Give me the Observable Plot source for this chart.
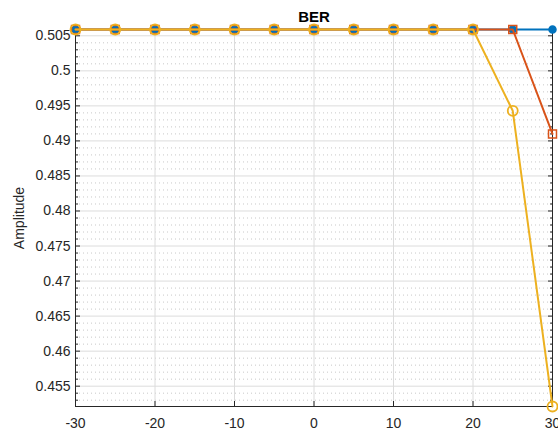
<!DOCTYPE html>
<html>
<head>
<meta charset="utf-8">
<script src="https://cdn.jsdelivr.net/npm/d3@7"></script>
<script src="https://cdn.jsdelivr.net/npm/@observablehq/plot@0.6"></script>
<style>
  html, body { margin: 0; padding: 0; background: #fff; }
</style>
</head>
<body>
<div id="chart"></div>
<script>
const snr = [-30, -25, -20, -15, -10, -5, 0, 5, 10, 15, 20, 25, 30];
const berA = [0.5059, 0.5059, 0.5059, 0.5059, 0.5059, 0.5059, 0.5059, 0.5059, 0.5059, 0.5059, 0.5059, 0.5059, 0.5059];
const berB = [0.5059, 0.5059, 0.5059, 0.5059, 0.5059, 0.5059, 0.5059, 0.5059, 0.5059, 0.5059, 0.5059, 0.5059, 0.4910];
const berC = [0.5059, 0.5059, 0.5059, 0.5059, 0.5059, 0.5059, 0.5059, 0.5059, 0.5059, 0.5059, 0.5059, 0.4943, 0.4521];
const xTicks = [-30, -20, -10, 0, 10, 20, 30];
const yTicks = [0.455, 0.46, 0.465, 0.47, 0.475, 0.48, 0.485, 0.49, 0.495, 0.5, 0.505];
const yMinor = d3.range(453, 506).filter(v => v % 5 !== 0).map(v => v / 1000);
const title = "BER";
const yLabel = "Amplitude";

const mk = (vals) => snr.map((x, i) => ({x, y: vals[i]}));
const A = mk(berA), B = mk(berB), C = mk(berC);
const blue = "#0072BD", red = "#D95319", yellow = "#EDB120";

const chart = Plot.plot({
  width: 558,
  height: 432,
  marginLeft: 75,
  marginRight: 6,
  marginTop: 29,
  marginBottom: 26,
  style: {fontFamily: "'Liberation Sans', Arial, Helvetica, sans-serif", fontSize: "14px", color: "#262626", background: "#fff"},
  x: {domain: [-30, 30]},
  y: {domain: [0.4521, 0.5059]},
  marks: [
    Plot.ruleY(yMinor, {stroke: "#c8c8c8", strokeDasharray: "1,3", strokeWidth: 1}),
    Plot.ruleY(yTicks, {stroke: "#dcdcdc", strokeWidth: 1}),
    Plot.ruleX(xTicks, {stroke: "#dcdcdc", strokeWidth: 1}),
    Plot.axisX({ticks: xTicks, tickSize: -5, tickPadding: 17, tickFormat: d => String(d), label: null, stroke: "#262626"}),
    Plot.axisY({ticks: yTicks, tickSize: -5, tickPadding: 10, tickFormat: d => String(+d.toFixed(3)), label: yLabel, labelAnchor: "center", labelArrow: "none", labelOffset: 61, stroke: "#262626"}),
    Plot.axisY({ticks: yMinor, tickSize: -3, text: null, label: null, stroke: "#262626"}),
    Plot.axisY({anchor: "right", ticks: yTicks, tickSize: -5, text: null, label: null, stroke: "#262626"}),
    Plot.axisY({anchor: "right", ticks: yMinor, tickSize: -3, text: null, label: null, stroke: "#262626"}),
    Plot.frame({stroke: "#262626", strokeWidth: 1}),
    Plot.line(A, {x: "x", y: "y", stroke: blue, strokeWidth: 2}),
    Plot.dot(A, {x: "x", y: "y", r: 3.5, fill: blue, stroke: blue, symbol: "circle"}),
    Plot.line(B, {x: "x", y: "y", stroke: red, strokeWidth: 2}),
    Plot.dot(B, {x: "x", y: "y", r: 4.5, stroke: red, strokeWidth: 1.5, fill: "none", symbol: "square"}),
    Plot.line(C, {x: "x", y: "y", stroke: yellow, strokeWidth: 2}),
    Plot.dot(C, {x: "x", y: "y", r: 5, stroke: yellow, strokeWidth: 1.8, fill: "none", symbol: "circle"}),
    Plot.text([title], {frameAnchor: "top", lineAnchor: "middle", dy: -12, fontWeight: "bold", fontSize: 15, fill: "#000"})
  ]
});
document.getElementById("chart").appendChild(chart);
</script>
</body>
</html>
